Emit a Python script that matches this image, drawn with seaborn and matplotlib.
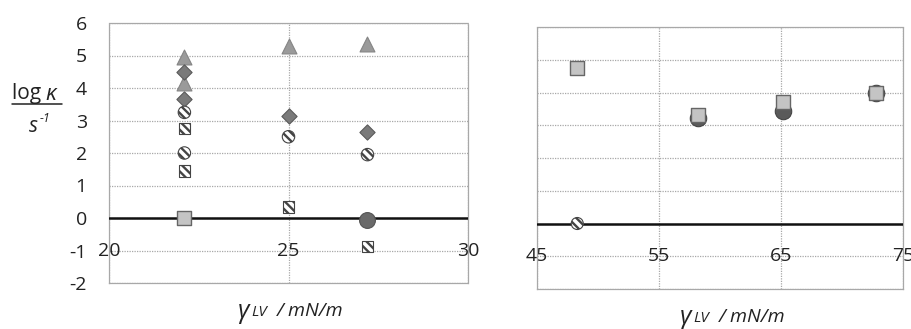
import matplotlib
matplotlib.use("Agg")
import matplotlib.pyplot as plt
import seaborn as sns
from matplotlib.lines import Line2D

sns.set_theme(style="white")
plt.rcParams["font.family"] = ["Open Sans", "DejaVu Sans"]

# ---- left panel (low surface tension liquids) ----
tri_x = [22.1, 22.1, 25.0, 27.2]
tri_y = [4.95, 4.15, 5.30, 5.35]
dia_x = [22.1, 22.1, 25.0, 27.2]
dia_y = [4.50, 3.65, 3.15, 2.65]
hcirc_x = [22.1, 22.1, 25.0, 27.2]
hcirc_y = [3.25, 2.00, 2.50, 1.95]
hsq_x = [22.1, 22.1, 25.0, 27.2]
hsq_y = [2.75, 1.45, 0.33, -0.88]
gsq_left_x = [22.1]
gsq_left_y = [0.0]
dcirc_left_x = [27.2]
dcirc_left_y = [-0.05]

# ---- right panel (high surface tension liquids) ----
gsq_right_x = [48.3, 58.2, 65.2, 72.8]
gsq_right_y = [4.75, 3.30, 3.70, 4.00]
dcirc_right_x = [58.2, 65.2, 72.8]
dcirc_right_y = [3.22, 3.45, 4.00]
hcirc_right_x = [48.3]
hcirc_right_y = [0.0]

y_ticks = [-2, -1, 0, 1, 2, 3, 4, 5, 6]
left_xticks = [20, 25, 30]
right_xticks = [45, 55, 65, 75]

W, H = 912, 329
fig = plt.figure(figsize=(W / 100, H / 100), dpi=100)


def box(x0, y0, x1, y1):
    return [x0 / W, 1 - y1 / H, (x1 - x0) / W, (y1 - y0) / H]


axL = fig.add_axes(box(109, 23, 468, 283))
axR = fig.add_axes(box(537, 27, 903, 289))

grid_kw = dict(color="#a8a8a8", linestyle=(0, (1, 1)), linewidth=0.9)


def style_axes(ax, xlim, xticks, show_y):
    ax.set_xlim(*xlim)
    ax.set_ylim(-2, 6)
    ax.set_yticks(y_ticks)
    ax.set_xticks(xticks)
    ax.grid(True, **grid_kw)
    for s in ax.spines.values():
        s.set_color("#a8a8a8")
        s.set_linestyle((0, (1, 1)))
        s.set_linewidth(0.9)
    ax.tick_params(length=0, labelbottom=False)
    if show_y:
        ax.set_yticklabels([str(v) for v in y_ticks], fontsize=14, color="#222222")
        ax.tick_params(axis="y", pad=16)
    else:
        ax.set_yticklabels([])
    # x tick labels sit on the y = -1 level
    for xv in xticks:
        ax.text(xv, -1, str(xv), ha="center", va="center", fontsize=14,
                color="#222222", zorder=2)
    # zero reference line
    ax.axhline(0, color="#111111", linewidth=1.8, zorder=3)
    ax.set_xlabel("")
    ax.set_ylabel("")


style_axes(axL, (20, 30), left_xticks, True)
style_axes(axR, (45, 75), right_xticks, False)

plt.rcParams["hatch.linewidth"] = 1.7
STRIPES = "\\" * 4


def pts(ax, x, y, **kw):
    sns.scatterplot(x=x, y=y, ax=ax, legend=False, zorder=5, **kw)


# left panel markers
pts(axL, tri_x, tri_y, marker="^", s=115, color="#9a9a9a", edgecolor="#858585", linewidth=0.8)
pts(axL, dia_x, dia_y, marker="D", s=60, color="#7a7a7a", edgecolor="#5a5a5a", linewidth=0.8)
pts(axL, hcirc_x, hcirc_y, marker="o", s=80, color="white", edgecolor="#444444",
    linewidth=0.8, hatch=STRIPES)
pts(axL, hsq_x, hsq_y, marker="s", s=70, color="white", edgecolor="#444444",
    linewidth=0.8, hatch=STRIPES)
pts(axL, gsq_left_x, gsq_left_y, marker="s", s=110, color="#c4c4c4", edgecolor="#666666",
    linewidth=1.0)
pts(axL, dcirc_left_x, dcirc_left_y, marker="o", s=130, color="#6a6a6a", edgecolor="#555555",
    linewidth=0.8)

# right panel markers
pts(axR, dcirc_right_x, dcirc_right_y, marker="o", s=140, color="#5a5a5a", edgecolor="#444444",
    linewidth=0.8)
pts(axR, gsq_right_x, gsq_right_y, marker="s", s=115, color="#c4c4c4", edgecolor="#666666",
    linewidth=1.0)
pts(axR, hcirc_right_x, hcirc_right_y, marker="o", s=75, color="white", edgecolor="#444444",
    linewidth=0.8, hatch=STRIPES)

# y-axis quantity written as a fraction: log kappa over s^-1
fig.text(12 / W, 1 - 94 / H, "log ", fontsize=15, ha="left", va="center", color="#222222")
fig.text(45 / W, 1 - 94 / H, "κ", fontsize=16, style="italic", ha="left", va="center",
         color="#222222")
fig.add_artist(Line2D([12 / W, 62 / W], [1 - 104 / H, 1 - 104 / H],
                      color="#222222", linewidth=1.1))
fig.text(29 / W, 1 - 126 / H, "s", fontsize=15, style="italic", ha="left", va="center",
         color="#222222")
fig.text(40 / W, 1 - 119 / H, "-1", fontsize=9, style="italic", ha="left", va="center",
         color="#222222")


def xlabel(cx, cy):
    fig.text((cx - 48) / W, 1 - cy / H, "γ", fontsize=18, style="italic", ha="left",
             va="center", color="#222222")
    fig.text((cx - 34) / W, 1 - (cy + 2) / H, "LV", fontsize=11, style="italic", ha="left",
             va="center", color="#222222")
    fig.text((cx - 8) / W, 1 - cy / H, "/ mN/m", fontsize=14, style="italic", ha="left",
             va="center", color="#222222")


xlabel(285, 311)
xlabel(727, 317)

fig.savefig("out.png", dpi=100)
